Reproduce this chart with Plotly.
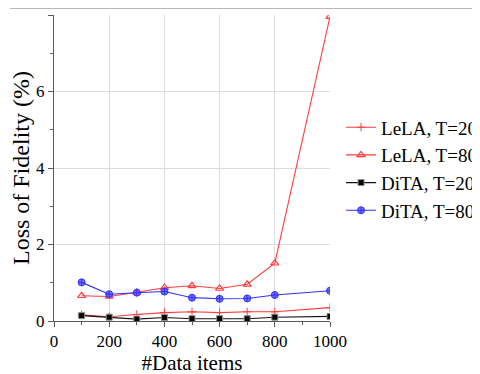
import plotly.graph_objects as go

x_items = [100, 200, 300, 400, 500, 600, 700, 800, 1000]
lela_t20 = [0.16, 0.11, 0.17, 0.22, 0.24, 0.22, 0.24, 0.24, 0.35]
lela_t80 = [0.66, 0.64, 0.75, 0.87, 0.92, 0.85, 0.96, 1.51, 7.96]
dita_t20 = [0.14, 0.10, 0.05, 0.09, 0.06, 0.06, 0.06, 0.10, 0.12]
dita_t80 = [1.01, 0.70, 0.74, 0.77, 0.61, 0.58, 0.59, 0.68, 0.79]
series_names = ["LeLA, T=20", "LeLA, T=80", "DiTA, T=20", "DiTA, T=80"]
x_ticks = [0, 200, 400, 600, 800, 1000]
y_ticks = [0, 2, 4, 6, 8]

FONT = "Liberation Serif"
red = "rgb(255,60,60)"
blue = "rgb(50,50,255)"

fig = go.Figure()
fig.add_trace(go.Scatter(x=x_items, y=lela_t20, name=series_names[0], mode="lines+markers",
                         line=dict(color=red, width=1.1),
                         marker=dict(symbol="cross-thin-open", size=6, color=red, line=dict(color=red, width=1))))
fig.add_trace(go.Scatter(x=x_items, y=lela_t80, name=series_names[1], mode="lines+markers",
                         line=dict(color=red, width=1.1),
                         marker=dict(symbol="triangle-up-open", size=7, color=red, line=dict(color=red, width=1.2))))
fig.add_trace(go.Scatter(x=x_items, y=dita_t20, name=series_names[2], mode="lines+markers",
                         line=dict(color="rgb(20,20,20)", width=1.1),
                         marker=dict(symbol="square", size=6, color="black", line=dict(color="rgb(140,140,140)", width=1))))
fig.add_trace(go.Scatter(x=x_items, y=dita_t80, name=series_names[3], mode="lines+markers",
                         line=dict(color=blue, width=1.1),
                         marker=dict(symbol="circle-cross", size=7, color="rgba(90,90,255,0.85)", line=dict(color=blue, width=1))))

OFF = 8  # page body offset
L, R_px, T, B_px = 54, 330, 15, 321
W, H = 480, 374
pw, ph = R_px - L, B_px - T

def px_x(p):
    return (p - L) / pw

def px_y(p):
    return (B_px - p) / ph

grid = "rgb(222,218,226)"
axis_col = "rgb(90,90,90)"

fig.update_layout(
    width=W, height=H,
    margin=dict(l=L - OFF, r=W - R_px + OFF, t=T - OFF, b=H - B_px + OFF, autoexpand=False),
    paper_bgcolor="white", plot_bgcolor="white",
    font=dict(family=FONT, color="black", size=16),
    showlegend=True,
    legend=dict(x=1.04, y=0.695, xanchor="left", yanchor="top",
                font=dict(family=FONT, size=19, color="black"),
                bgcolor="rgba(0,0,0,0)", tracegroupgap=0, itemwidth=30),
    xaxis=dict(range=[0, 1000], tickvals=x_ticks, showgrid=True, gridcolor=grid, gridwidth=1,
               showline=True, linecolor=axis_col, linewidth=1, ticks="outside", ticklen=5,
               tickcolor=axis_col, zeroline=False,
               minor=dict(tickvals=[100, 300, 500, 700, 900], ticks="outside", ticklen=3,
                          tickcolor=axis_col, showgrid=False),
               tickfont=dict(family=FONT, size=17, color="black"),
               title=dict(text="#Data items", font=dict(family=FONT, size=21), standoff=1)),
    yaxis=dict(range=[0, 8], tickvals=y_ticks, showgrid=True, gridcolor=grid, gridwidth=1,
               showline=True, linecolor=axis_col, linewidth=1, ticks="outside", ticklen=5,
               tickcolor=axis_col, zeroline=False,
               minor=dict(tickvals=[1, 3, 5, 7], ticks="outside", ticklen=3,
                          tickcolor=axis_col, showgrid=False),
               tickfont=dict(family=FONT, size=17, color="black"),
               title=dict(text="Loss of Fidelity (%)", font=dict(family=FONT, size=24), standoff=4)),
    shapes=[
        dict(type="line", xref="paper", yref="paper", x0=px_x(10), x1=px_x(478), y0=px_y(8), y1=px_y(8),
             line=dict(color="rgb(160,160,160)", width=1.5)),
        dict(type="line", xref="paper", yref="paper", x0=px_x(477), x1=px_x(477), y0=px_y(8), y1=px_y(374),
             line=dict(color="rgb(160,160,160)", width=1.5)),
        dict(type="rect", xref="paper", yref="paper", x0=px_x(478), x1=px_x(495), y0=px_y(8), y1=px_y(380),
             line=dict(width=0), fillcolor="white"),
    ],
)

fig.write_html("out.html")
